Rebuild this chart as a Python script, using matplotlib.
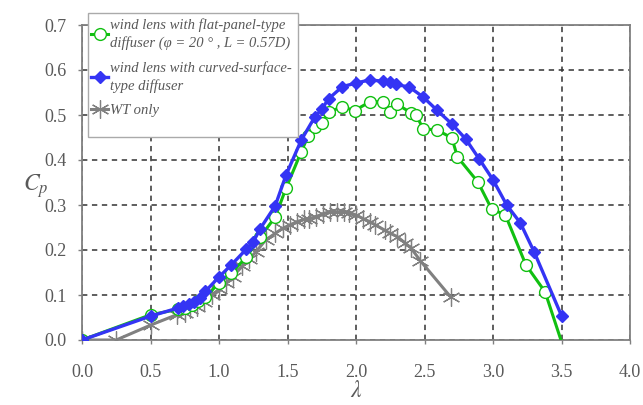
import numpy as np
import matplotlib
matplotlib.use("Agg")
import matplotlib.pyplot as plt
from matplotlib.patches import Rectangle

# ---------- datos ----------
lam_flat = [0.0, 0.5, 0.7, 0.75, 0.8, 0.85, 0.9, 1.0, 1.09, 1.2, 1.3, 1.41, 1.49, 1.6,
            1.65, 1.7, 1.75, 1.8, 1.9, 1.99, 2.1, 2.2, 2.25, 2.3, 2.4, 2.44, 2.49,
            2.59, 2.7, 2.74, 2.89, 2.99, 3.09, 3.24, 3.38, 3.55]
cp_flat = [0.0, 0.056, 0.068, 0.072, 0.078, 0.086, 0.095, 0.127, 0.149, 0.184, 0.229,
           0.273, 0.338, 0.418, 0.453, 0.474, 0.483, 0.507, 0.518, 0.510, 0.529, 0.530,
           0.507, 0.524, 0.505, 0.500, 0.469, 0.467, 0.449, 0.407, 0.351, 0.291, 0.278,
           0.167, 0.107, -0.05]

lam_curved = [0.0, 0.5, 0.7, 0.74, 0.78, 0.82, 0.86, 0.9, 1.0, 1.09, 1.2, 1.25, 1.3,
              1.41, 1.49, 1.6, 1.7, 1.75, 1.8, 1.9, 2.0, 2.1, 2.2, 2.25, 2.29, 2.39,
              2.49, 2.59, 2.7, 2.8, 2.9, 3.0, 3.1, 3.2, 3.3, 3.5]
cp_curved = [0.0, 0.053, 0.071, 0.076, 0.080, 0.085, 0.093, 0.108, 0.140, 0.167, 0.202,
             0.218, 0.247, 0.298, 0.367, 0.444, 0.496, 0.513, 0.536, 0.563, 0.571, 0.578,
             0.575, 0.573, 0.568, 0.562, 0.540, 0.511, 0.480, 0.447, 0.402, 0.356, 0.300,
             0.260, 0.196, 0.054]

lam_wt = [0.0, 0.25, 0.5, 0.69, 0.75, 0.79, 0.84, 0.89, 0.95, 1.0, 1.05, 1.1, 1.17, 1.22,
          1.27, 1.34, 1.41, 1.47, 1.52, 1.57, 1.62, 1.66, 1.71, 1.76, 1.81, 1.86, 1.91,
          1.95, 2.0, 2.05, 2.1, 2.14, 2.21, 2.25, 2.3, 2.36, 2.4, 2.47, 2.69]
cp_wt = [0.0, 0.0, 0.033, 0.056, 0.059, 0.068, 0.074, 0.085, 0.100, 0.113, 0.127, 0.141,
         0.164, 0.180, 0.196, 0.222, 0.237, 0.249, 0.256, 0.263, 0.268, 0.270, 0.274,
         0.281, 0.285, 0.285, 0.285, 0.283, 0.278, 0.270, 0.263, 0.256, 0.244, 0.237,
         0.230, 0.215, 0.205, 0.176, 0.096]

x_ticks = [0.0, 0.5, 1.0, 1.5, 2.0, 2.5, 3.0, 3.5, 4.0]
y_ticks = [0.0, 0.1, 0.2, 0.3, 0.4, 0.5, 0.6, 0.7]

etiquetas = ["wind lens with flat-panel-type\ndiffuser (φ = 20 ° , L = 0.57D)",
             "wind lens with curved-surface-\ntype diffuser",
             "WT only"]

# ---------- grafico ----------
plt.rcParams['font.family'] = ['Liberation Serif', 'DejaVu Serif']
plt.rcParams['mathtext.fontset'] = 'stix'

gris = "#808080"
texto = "#595959"
W, H = 643, 405

fig = plt.figure(figsize=(6.43, 4.05), dpi=100)
ax = fig.add_axes([82 / W, 65 / H, 548 / W, 315 / H])

l1, = ax.plot(lam_flat, cp_flat, color="#11c011", linewidth=2.2, marker="o",
              markersize=8.5, markerfacecolor="white", markeredgecolor="#11c011",
              markeredgewidth=1.0, zorder=3)
l2, = ax.plot(lam_curved, cp_curved, color="#3434f4", linewidth=2.4, marker="D",
              markersize=6, zorder=4)
l3, = ax.plot(lam_wt, cp_wt, color=gris, linewidth=2.2, marker=(6, 2, 0),
              markersize=13, markeredgewidth=0.9, zorder=2)

ax.set_xlim(0, 4.0)
ax.set_ylim(0, 0.7)
ax.set_xticks(x_ticks)
ax.set_yticks(y_ticks)
ax.set_xticklabels([f"{v:.1f}" for v in x_ticks])
ax.set_yticklabels([f"{v:.1f}" for v in y_ticks])
ax.tick_params(colors=gris, labelcolor=texto, labelsize=13, length=3, width=1)
ax.tick_params(axis="x", pad=14)
ax.tick_params(axis="y", pad=8)

ax.grid(True, color="#333333", linestyle=(0, (3.5, 3)), linewidth=1.1)
for s in ax.spines.values():
    s.set_color(gris)
    s.set_linewidth(1.3)

ax.set_xlabel(r"$\lambda$", fontsize=17, color=texto, labelpad=0)
ax.set_ylabel(r"$C_p$", fontsize=17, color=texto, rotation=0, va="center", ha="center")
ax.yaxis.set_label_coords(-0.085, 0.49)

# marco de la leyenda dibujado aparte (deja espacio vacio abajo como el original)
marco = Rectangle((88 / W, 1 - 137 / H), 210 / W, 124 / H, transform=fig.transFigure,
                  facecolor="white", edgecolor="#aaaaaa", linewidth=1.0, zorder=5)
fig.add_artist(marco)

leg = fig.legend([l1, l2, l3], etiquetas, loc="upper left",
                 bbox_to_anchor=(88 / W, 1 - 15 / H), prop={"style": "italic", "size": 10.5},
                 handlelength=1.2, handletextpad=0.1, borderpad=0.2, labelspacing=0.75,
                 frameon=False, borderaxespad=0)
leg.set_zorder(6)
for t in leg.get_texts():
    t.set_color(texto)
    t.set_linespacing(1.4)

plt.savefig("out.png", dpi=100)
